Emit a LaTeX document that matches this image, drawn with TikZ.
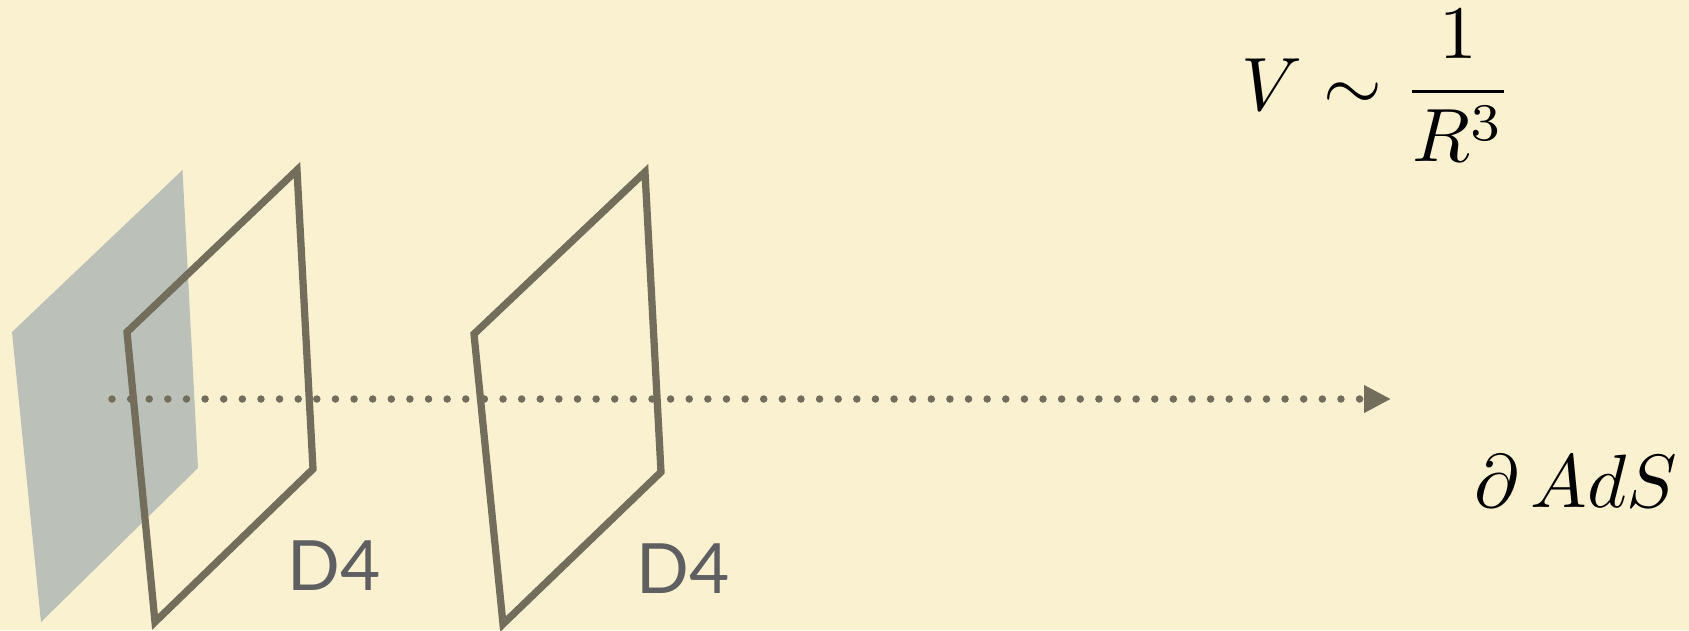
\documentclass[tikz,border=0pt]{standalone}
\usepackage{fontspec}
\setmainfont{Lato}
\usetikzlibrary{arrows.meta}
\definecolor{paper}{HTML}{FAF1D1}
\definecolor{sheet}{HTML}{BBC1B8}
\definecolor{edge}{HTML}{736E5C}
\definecolor{tag}{HTML}{5F5F61}
\begin{document}
\begin{tikzpicture}[
        brane/.style={
            draw=edge,
            line width=0.145cm,
            line join=miter
        },
        ghost/.style={
            fill=sheet
        },
        tagtext/.style={
            text=tag,
            anchor=base,
            inner sep=0pt,
            font=\fontsize{39.5}{40}\selectfont
        },
        formula/.style={
            text=black,
            anchor=base west,
            inner sep=0pt,
            scale=4.3,
            transform shape
        },
        axis/.style={
            draw=edge,
            line width=0.15cm,
            line cap=round,
            dash pattern=on 0pt off 0.3724cm,
            -{Triangle[length=0.54cm,width=0.52cm,fill=edge]}
        }
    ]

        \useasboundingbox[fill=paper] (0,0) rectangle (33.78,-12.60);

        \fill[ghost] (3.65,-3.40) -- (0.24,-6.64) -- (0.82,-12.44) -- (3.96,-9.36) -- cycle;
        \draw[brane] (5.94,-3.40) -- (2.54,-6.64) -- (3.10,-12.44) -- (6.26,-9.38) -- cycle;
        \draw[brane] (12.90,-3.44) -- (9.48,-6.68) -- (10.06,-12.48) -- (13.22,-9.44) -- cycle;

        \coordinate (from) at (2.24,-7.98);
        \coordinate (to) at (27.82,-7.98);
        \draw[axis] (from) -- (to);

        \node[tagtext] (first) at (6.69,-11.80) {D4};
        \node[tagtext] (second) at (13.67,-11.86) {D4};
        \node[formula] (potential) at (24.80,-2.20) {$\displaystyle V\sim\frac{1}{R^3}$};
        \node[formula] (boundary) at (29.45,-10.14) {$\partial\,AdS$};

    \end{tikzpicture}
\end{document}
